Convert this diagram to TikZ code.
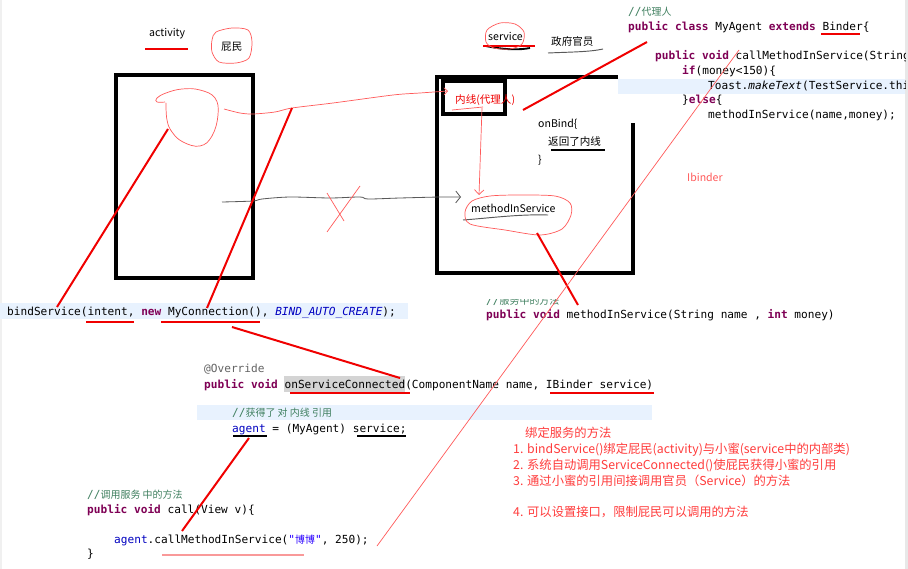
\documentclass[tikz,border=0pt]{standalone}
\usepackage{fontspec}
\setmainfont{Noto Sans CJK SC}
\setmonofont{DejaVu Sans Mono}
\newfontfamily\cjk{Noto Sans CJK SC}
\usetikzlibrary{arrows.meta}
\usetikzlibrary{positioning}
\definecolor{kwpurple}{HTML}{7F0055}
\definecolor{cmtgreen}{HTML}{3F7F5F}
\definecolor{fieldblue}{HTML}{0000C0}
\definecolor{strblue}{HTML}{2A00FF}
\definecolor{annogray}{HTML}{646464}
\definecolor{hiblue}{HTML}{E8F2FE}
\definecolor{pen}{HTML}{F00000}
\definecolor{softpen}{HTML}{FF5A5A}
\definecolor{notered}{HTML}{FF3C3C}
\newcommand{\kw}[1]{\textcolor{kwpurple}{\textbf{#1}}}
\newcommand{\cmt}[1]{\textcolor{cmtgreen}{#1}}
\newcommand{\fld}[1]{\textcolor{fieldblue}{#1}}
\newcommand{\zh}[1]{{\cjk\fontsize{8.5}{10}\selectfont #1}}
\tikzset{code/.style = {anchor=base west, inner sep=0pt,
                        font=\ttfamily\fontsize{9.5}{11}\selectfont},
         sketch/.style = {anchor=base west, inner sep=0pt,
                          font=\fontsize{9}{11}\selectfont},
         note/.style = {anchor=base west, inner sep=0pt, text=notered,
                        font=\fontsize{10.5}{12}\selectfont},
         frame/.style = {draw=black, line width=2.6pt},
         redpen/.style = {draw=pen, line width=1.7pt},
         thinpen/.style = {draw=softpen, line width=0.6pt},
         pencil/.style = {draw=black!65, line width=0.8pt}}

\begin{document}
\begin{tikzpicture}[x=0.03cm, y=-0.03cm]
  \useasboundingbox (0,0) rectangle (908,569);
  \fill [white] (0,0) rectangle (908,569);
  \fill [black!6] (0,0) rectangle (2,569);
  \fill [black!9] (905,0) rectangle (908,569);

  % highlighted code lines
  \fill [hiblue] (0,303) rectangle (408,319);
  \fill [hiblue] (197,405) rectangle (652,420);
  \fill [hiblue] (618,79) rectangle (905,94);
  \fill [black!17] (284,376) rectangle (405,392);

  % activity and service
  \draw [frame] (116,75) rectangle (253,278);
  \draw [frame, line join=miter] (618,77) -- (437,77) -- (437,273) -- (633,273) -- (633,123);
  \draw [frame] (443,81) rectangle (505,114);

  \node [sketch] (actlabel) at (149,37) {activity};
  \node [sketch] (pimin) at (221,51) {屁民};
  \node [sketch] (svclabel) at (488,41) {service};
  \node [sketch] (official) at (551,46) {政府官员};
  \node [sketch, text=pen] (agentlabel) at (455,104) {内线(代理人)};
  \node [sketch] (onbind) at (538,128) {onBind\{};
  \node [sketch] (retline) at (548,146) {返回了内线};
  \node [sketch] (onbindend) at (538,164) {\}};
  \node [sketch] (methlabel) at (471,213) {methodInService};
  \node [sketch, text=softpen] (ibinder) at (687,182) {Ibinder};

  % code: the agent class
  \begin{scope}
    \clip (0,0) rectangle (905,569);
    \node [code] (agentcmt) at (628,16) {\cmt{//\zh{代理人}}};
    \node [code] (agentcls) at (628,31) {\kw{public} \kw{class} MyAgent \kw{extends} Binder\{};
    \node [code] (callsig) at (655,60) {\kw{public} \kw{void} callMethodInService(String};
    \node [code] (ifline) at (682,75) {\kw{if}(money<150)\{};
    \node [code] (toast) at (708,90) {Toast.\textit{makeText}(TestService.this};
    \node [code] (elseline) at (682,104) {\}\kw{else}\{};
    \node [code] (callin) at (708,119) {methodInService(name,money);};
  \end{scope}

  % code: binding
  \node [code] (bindcall) at (7,315) {bindService(intent, \kw{new} MyConnection(), \fld{\textit{BIND\_AUTO\_CREATE}});};
  \begin{scope}
    \clip (0,299) rectangle (908,320);
    \node [code] (svccmt) at (486,304) {\cmt{//\zh{服务中的方法}}};
  \end{scope}
  \node [code] (svcmeth) at (486,318) {\kw{public} \kw{void} methodInService(String name , \kw{int} money)};
  \node [code, text=annogray] (override) at (204,372) {@Override};
  \node [code] (connected) at (204,388) {\kw{public} \kw{void} onServiceConnected(ComponentName name, IBinder service)};
  \node [code] (refcmt) at (232,416) {\cmt{//\zh{获得了 对 内线 引用}}};
  \node [code] (assign) at (232,432) {\fld{agent} = (MyAgent) service;};
  \node [code] (callcmt) at (87,498) {\cmt{//\zh{调用服务 中的方法}}};
  \node [code] (callsig2) at (87,513) {\kw{public} \kw{void} call(View v)\{};
  \node [code] (callbody) at (114,543) {\fld{agent}.callMethodInService(\textcolor{strblue}{"\zh{博博}"}, 250);};
  \node [code] (callend) at (87,557) {\}};

  % underlines
  \draw [redpen] (145,49) -- (188,49);
  \draw [draw=black, line width=1.6pt] (486,46) .. controls (505,50) and (520,50) .. (530,48);
  \draw [redpen, line width=1.2pt] (483,46) -- (535,46);
  \draw [pencil] (548,53) .. controls (570,52) and (590,52) .. (603,49);
  \draw [draw=black, line width=1.8pt] (551,150) -- (605,150);
  \draw [pencil] (463,220) .. controls (490,218) and (520,214) .. (548,215);
  \draw [thinpen] (452,110) -- (483,107);
  \draw [redpen, line width=1.2pt] (821,34) -- (860,34);
  \draw [redpen, line width=1.2pt] (86,322) -- (134,322);
  \draw [redpen, line width=1.2pt] (161,322) -- (260,322);
  \draw [redpen, line width=1.2pt] (290,393) -- (410,393);
  \draw [redpen, line width=1.2pt] (550,393) -- (654,393);
  \draw [draw=black, line width=1.8pt] (233,436) -- (267,436);
  \draw [draw=black, line width=1.8pt] (357,436) -- (406,436);
  \draw [draw=pen!40, line width=1.6pt] (162,555) -- (304,555);

  % hand drawn rings
  \draw [thinpen] plot [smooth, tension=0.7] coordinates {(166,103) (167,120) (172,132) (183,142)
        (200,146) (212,136) (218,115) (215,98) (200,90) (182,89) (166,93) (157,98) (157,102) (165,102)};
  \draw [thinpen] plot [smooth cycle] coordinates {(216,32) (232,28) (248,30) (252,42) (249,58)
        (236,63) (219,62) (212,52) (212,40)};
  \draw [thinpen] plot [smooth cycle] coordinates {(487,30) (500,23) (515,24) (524,32) (522,44)
        (510,49) (494,48) (486,42)};
  \draw [thinpen] plot [smooth cycle] coordinates {(472,201) (490,196) (520,195) (555,196) (570,203)
        (571,215) (562,229) (540,235) (505,230) (470,224) (465,212)};

  % connections
  \draw [thinpen, -{Straight Barb[length=3pt,width=6pt]}] plot [smooth] coordinates {(224,109) (240,113)
        (253,114) (275,112) (292,108) (333,103) (393,95) (420,93) (448,91)};
  \draw [thinpen, -{Straight Barb[length=4pt,width=8pt]}] (482,108) -- (479,195);
  \draw [draw=black!65, line width=0.7pt, -{Straight Barb[length=4pt,width=10pt]}] plot [smooth]
        coordinates {(222,202) (253,201) (262,199) (290,197) (330,198) (360,197) (368,199) (400,198) (440,197) (461,197)};
  \draw [thinpen] (327,193) -- (344,221);
  \draw [thinpen] (360,186) -- (327,232);

  % thick strokes
  \coordinate (loop) at (168,129);
  \coordinate (wire) at (292,108);
  \draw [redpen] (loop) -- (57,307);
  \draw [redpen] (wire) -- (207,308);
  \draw [redpen] (232,327) -- (400,378);
  \draw [redpen] (249,438) -- (182,531);
  \draw [redpen] (523,110) -- (647,42);
  \draw [redpen] (537,233) -- (578,305);
  \draw [thinpen] (739,50) -- (377,546);

  % notes
  \node [note] (notetitle) at (525,437) {绑定服务的方法};
  \node [note] (noteone) at (513,453) {1. bindService()绑定屁民(activity)与小蜜(service中的内部类)};
  \node [note] (notetwo) at (513,469) {2. 系统自动调用ServiceConnected()使屁民获得小蜜的引用};
  \node [note] (notethree) at (513,485) {3. 通过小蜜的引用间接调用官员（Service）的方法};
  \node [note] (notefour) at (513,516) {4. 可以设置接口，限制屁民可以调用的方法};
\end{tikzpicture}
\end{document}
